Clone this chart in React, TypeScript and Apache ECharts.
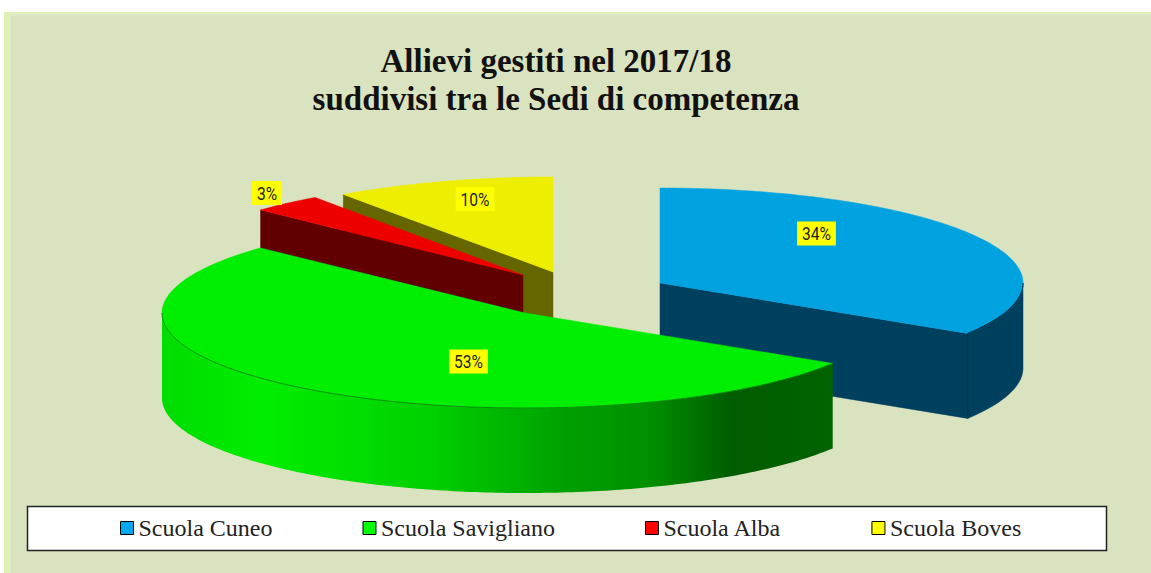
import React, { useEffect, useRef } from "react";
import * as echarts from "echarts";

const sedi = ["Scuola Cuneo", "Scuola Savigliano", "Scuola Alba", "Scuola Boves"];
const quote = [33.9, 53.1, 3.2, 9.8];

const topColors = ["#00a2e0", "#00ee00", "#ee0000", "#eeee00"];
const legendColors = ["#00a8f0", "#00ff00", "#ff0000", "#ffff00"];
const sideColors = ["#00405f", "#006000", "#600000", "#666600"];
const seamColors = ["#002c44", "rgba(0,70,0,0.55)", "#400000", "#444400"];
// exploded centre and label centre of every slice, in page pixels
const layout = [
  { cx: 660, cy: 283, rx: 363, lx: 816.5, ly: 233.5 },
  { cx: 525, cy: 313, rx: 363, lx: 468.5, ly: 361.5 },
  { cx: 523, cy: 275, rx: 360, lx: 267, ly: 193 },
  { cx: 553, cy: 272, rx: 363, lx: 475, ly: 199 },
];
const RY = 95;
const DEPTH = 85;
// back slices are painted first
const drawOrder = [0, 3, 2, 1];

const total = quote.reduce((a, b) => a + b, 0);
const startAngles: number[] = [];
quote.reduce((acc, v, i) => {
  startAngles[i] = acc;
  return acc + (v / total) * 2 * Math.PI;
}, 0);

function arcPoints(i: number, a0: number, a1: number, dy = 0) {
  const { cx, cy, rx } = layout[i];
  const n = Math.max(2, Math.ceil(Math.abs(a1 - a0) / 0.015));
  const pts: number[][] = [];
  for (let k = 0; k <= n; k++) {
    const a = a0 + ((a1 - a0) * k) / n;
    pts.push([cx + rx * Math.sin(a), cy - RY * Math.cos(a) + dy]);
  }
  return pts;
}

function radialFace(i: number, a: number, fill: string) {
  const { cx, cy } = layout[i];
  const [p] = arcPoints(i, a, a + 1e-6);
  return {
    type: "polygon",
    shape: {
      points: [
        [cx, cy],
        p,
        [p[0], p[1] + DEPTH],
        [cx, cy + DEPTH],
      ],
    },
    style: { fill, stroke: fill, lineWidth: 0.5 },
  };
}

function makeRenderItem(i: number) {
  return (_params: any, api: any) => {
    const value = api.value(0);
    const a0 = startAngles[i];
    const a1 = a0 + (value / total) * 2 * Math.PI;
    const { cx, cy, lx, ly } = layout[i];
    const children: any[] = [];
    const side = sideColors[i];

    if (a0 > Math.PI) children.push(radialFace(i, a0, side));
    if (a1 < Math.PI) children.push(radialFace(i, a1, side));

    const f0 = Math.max(a0, Math.PI / 2);
    const f1 = Math.min(a1, (3 * Math.PI) / 2);
    let front: number[][] = [];
    if (f1 > f0) {
      front = arcPoints(i, f0, f1);
      const bottom = arcPoints(i, f0, f1, DEPTH).reverse();
      const fill =
        i === 1
          ? new echarts.graphic.LinearGradient(1, 0, 0, 0, [
              { offset: 0, color: "#006400" },
              { offset: 0.15, color: "#005c00" },
              { offset: 0.27, color: "#008f00" },
              { offset: 0.4, color: "#00a000" },
              { offset: 0.6, color: "#00d000" },
              { offset: 0.85, color: "#00ee00" },
              { offset: 1, color: "#00dc00" },
            ])
          : side;
      children.push({
        type: "polygon",
        shape: { points: [...front, ...bottom] },
        style: { fill, stroke: i === 1 ? "transparent" : side, lineWidth: 0.5 },
      });
    }

    const top = arcPoints(i, a0, a1);
    children.push({
      type: "polygon",
      shape: { points: [[cx, cy], ...top] },
      style: { fill: topColors[i], stroke: topColors[i], lineWidth: 0.5 },
    });

    if (front.length) {
      children.push({
        type: "polyline",
        shape: { points: front },
        style: { fill: "none", stroke: seamColors[i], lineWidth: 1 },
      });
      if (i === 0) {
        const e = front[front.length - 1];
        children.push({
          type: "line",
          shape: { x1: e[0], y1: e[1], x2: e[0], y2: e[1] + DEPTH },
          style: { stroke: seamColors[i], lineWidth: 1 },
        });
      }
    }

    children.push({
      type: "text",
      x: lx,
      y: ly,
      scaleX: 0.82,
      z2: 50,
      style: {
        text: `${Math.round(value)}%`,
        font: '19px "Roboto", sans-serif',
        fill: "#222",
        align: "center",
        verticalAlign: "middle",
        backgroundColor: "#ffff00",
        padding: [3, 6, 2, 6],
      },
    });
    return { type: "group", children };
  };
}

export default function App() {
  const ref = useRef<HTMLDivElement>(null);
  useEffect(() => {
    document.body.style.margin = "0";
    const chart = echarts.init(ref.current!, undefined, { renderer: "svg" });
    chart.setOption({
      animation: false,
      backgroundColor: "#ffffff",
      title: {
        text: "Allievi gestiti nel 2017/18\nsuddivisi tra le Sedi di competenza",
        left: 556,
        top: 42,
        textAlign: "center",
        padding: 0,
        textStyle: {
          fontFamily: '"Liberation Serif", serif',
          fontWeight: "bold",
          fontSize: 33,
          lineHeight: 38,
          color: "#111",
        },
      },
      graphic: [
        { type: "rect", z: 0, shape: { x: 4, y: 12, width: 1147, height: 561 }, style: { fill: "#e0efb2" } },
        { type: "rect", z: 0, shape: { x: 9, y: 14, width: 1142, height: 559 }, style: { fill: "#e4ead2" } },
        { type: "rect", z: 0, shape: { x: 10.5, y: 15.5, width: 1140.5, height: 557.5 }, style: { fill: "#d9e3bf" } },
        {
          type: "rect",
          z: 1,
          shape: { x: 27.5, y: 506.5, width: 1079, height: 44 },
          style: { fill: "#ffffff", stroke: "#222", lineWidth: 1.5 },
        },
      ],
      legend: {
        data: sedi,
        left: 120,
        top: 516,
        padding: 0,
        itemGap: 90,
        itemWidth: 13,
        itemHeight: 13,
        icon: "rect",
        selectedMode: false,
        itemStyle: { borderColor: "#000", borderWidth: 1 },
        textStyle: {
          fontFamily: '"Liberation Serif", serif',
          fontSize: 24,
          color: "#222",
        },
      },
      series: drawOrder.map((i) => ({
        type: "custom",
        name: sedi[i],
        coordinateSystem: "none",
        itemStyle: { color: legendColors[i] },
        renderItem: makeRenderItem(i),
        data: [{ name: sedi[i], value: [quote[i]] }],
        silent: true,
      })),
    });
    return () => chart.dispose();
  }, []);
  return <div ref={ref} style={{ width: 1151, height: 573, overflow: "hidden" }} />;
}
